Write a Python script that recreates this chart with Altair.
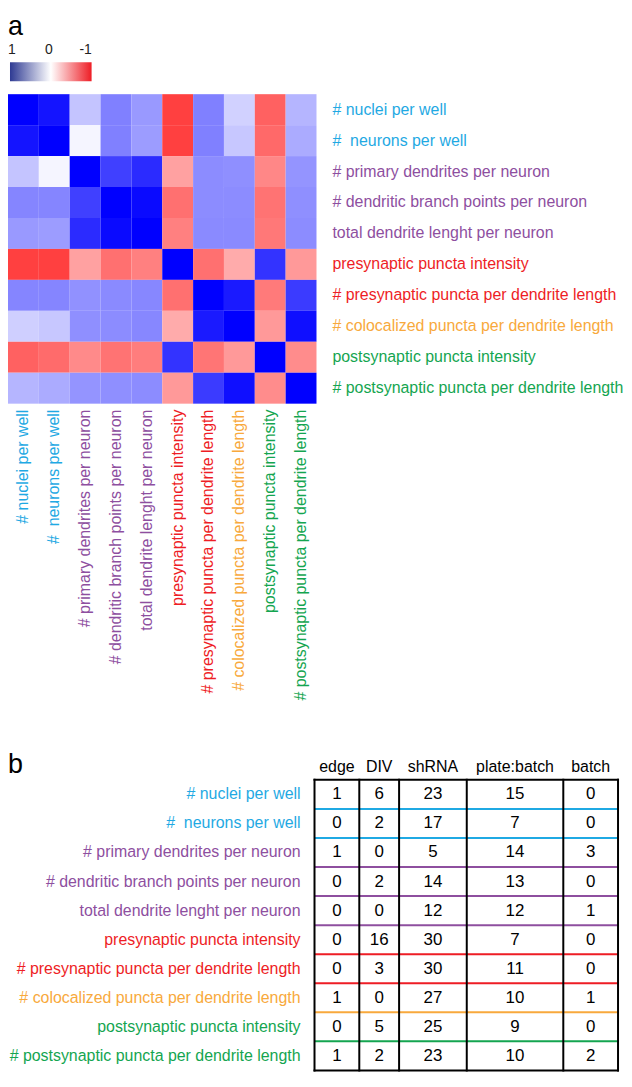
import altair as alt
import pandas as pd

# ---------------- data ----------------
labels = [
    "# nuclei per well",
    "#\u00a0 neurons per well",
    "# primary dendrites per neuron",
    "# dendritic branch points per neuron",
    "total dendrite lenght per neuron",
    "presynaptic puncta intensity",
    "# presynaptic puncta per dendrite length",
    "# colocalized puncta per dendrite length",
    "postsynaptic puncta intensity",
    "# postsynaptic puncta per dendrite length",
]
CYAN, PURPLE, RED, ORANGE, GREEN = "#1fa9e3", "#8e4f9f", "#ee1d25", "#f8a93c", "#14a550"
label_colors = [CYAN, CYAN, PURPLE, PURPLE, PURPLE, RED, RED, ORANGE, GREEN, GREEN]

# correlation matrix rows (1 = blue, 0 = white, -1 = red)
m_nuclei   = [1.00, 0.92, 0.23, 0.50, 0.40, -0.75, 0.50, 0.18, -0.62, 0.29]
m_neurons  = [0.92, 1.00, 0.04, 0.50, 0.39, -0.75, 0.50, 0.22, -0.59, 0.33]
m_primary  = [0.23, 0.04, 1.00, 0.75, 0.83, -0.37, 0.45, 0.44, -0.47, 0.42]
m_branch   = [0.48, 0.48, 0.75, 1.00, 0.96, -0.56, 0.45, 0.45, -0.55, 0.44]
m_total    = [0.40, 0.39, 0.83, 0.96, 1.00, -0.50, 0.46, 0.46, -0.53, 0.45]
m_pre_int  = [-0.75, -0.75, -0.37, -0.56, -0.50, 1.00, -0.56, -0.33, 0.80, -0.40]
m_pre_den  = [0.48, 0.48, 0.43, 0.46, 0.47, -0.56, 1.00, 0.90, -0.52, 0.77]
m_coloc    = [0.19, 0.22, 0.44, 0.45, 0.47, -0.33, 0.90, 1.00, -0.40, 0.94]
m_post_int = [-0.62, -0.58, -0.46, -0.55, -0.51, 0.80, -0.54, -0.40, 1.00, -0.45]
m_post_den = [0.29, 0.33, 0.42, 0.44, 0.45, -0.40, 0.77, 0.94, -0.45, 1.00]
matrix = [m_nuclei, m_neurons, m_primary, m_branch, m_total,
          m_pre_int, m_pre_den, m_coloc, m_post_int, m_post_den]

legend_ticks = ["1", "0", "-1"]

# table b
col_names = ["edge", "DIV", "shRNA", "plate:batch", "batch"]
v_edge = [1, 0, 1, 0, 0, 0, 0, 1, 0, 1]
v_div = [6, 2, 0, 2, 0, 16, 3, 0, 5, 2]
v_shrna = [23, 17, 5, 14, 12, 30, 30, 27, 25, 23]
v_plate_batch = [15, 7, 14, 13, 12, 7, 11, 10, 9, 10]
v_batch = [0, 0, 3, 0, 1, 0, 0, 1, 0, 2]
table_cols = [v_edge, v_div, v_shrna, v_plate_batch, v_batch]

# ---------------- layout constants ----------------
FONT = "Liberation Sans"
HW, HH = 310, 311          # heatmap size
TW, TH = 305, 292          # table size
TX0 = 308                  # table left inside bottom panel
col_widths = [45, 40, 68, 97, 55]

edges = [0]
for w in col_widths:
    edges.append(edges[-1] + w)
centers = [(edges[i] + edges[i + 1]) / 2 for i in range(len(col_widths))]

# ---------------- heatmap panel ----------------
heat_df = pd.DataFrame(
    [{"row": labels[i], "col": labels[j], "r": matrix[i][j]}
     for i in range(len(labels)) for j in range(len(labels))]
)
lab_df = pd.DataFrame({"label": labels, "color": label_colors})
one = pd.DataFrame({"k": [0]})

band = alt.Scale(domain=labels, paddingInner=0, paddingOuter=0)

heat = alt.Chart(heat_df).mark_rect().encode(
    x=alt.X("col:N", scale=band, axis=None),
    y=alt.Y("row:N", scale=band, axis=None),
    color=alt.Color("r:Q", legend=None,
                    scale=alt.Scale(domain=[-1, 0, 1],
                                    range=["#ff0000", "#ffffff", "#0000ff"],
                                    interpolate="rgb")),
)

right_labels = alt.Chart(lab_df).mark_text(
    align="left", baseline="middle", fontSize=16
).encode(
    y=alt.Y("label:N", scale=band, axis=None),
    x=alt.value(HW + 16),
    text="label:N",
    fill=alt.Fill("color:N", scale=None),
)

bottom_labels = alt.Chart(lab_df).mark_text(
    align="right", baseline="middle", angle=270, fontSize=16
).encode(
    x=alt.X("label:N", scale=band, axis=None),
    y=alt.value(HH + 6),
    text="label:N",
    fill=alt.Fill("color:N", scale=None),
)

title_a = alt.Chart(one).mark_text(
    text="a", fontSize=27, align="left", baseline="alphabetic", color="black"
).encode(x=alt.value(0), y=alt.value(-59))

grad = {
    "gradient": "linear",
    "x1": 0, "x2": 1, "y1": 0, "y2": 0,
    "stops": [
        {"offset": 0, "color": "#2e3a93"},
        {"offset": 0.5, "color": "#ffffff"},
        {"offset": 1, "color": "#ee1d25"},
    ],
}
legend_bar = alt.Chart(one).mark_rect(fill=grad).encode(
    x=alt.value(2), x2=alt.value(84), y=alt.value(-32), y2=alt.value(-13)
)
tick_x = [4, 41, 78]
legend_text = [
    alt.Chart(one).mark_text(text=t, fontSize=14, align="center",
                             baseline="alphabetic", color="#222222")
    .encode(x=alt.value(xx), y=alt.value(-40))
    for t, xx in zip(legend_ticks, tick_x)
]

top = alt.layer(heat, right_labels, bottom_labels, title_a, legend_bar,
                *legend_text).properties(width=HW, height=HH)

# ---------------- table panel ----------------
tab_df = pd.DataFrame(
    [{"label": labels[i], "cx": centers[j], "v": str(table_cols[j][i])}
     for i in range(len(labels)) for j in range(len(col_names))]
)
head_df = pd.DataFrame({"name": col_names, "cx": centers})
edge_df = pd.DataFrame({"e": edges})
sep_df = pd.DataFrame({"label": labels[:-1], "color": label_colors[:-1]})

xq = alt.Scale(domain=[0, TW], range=[TX0, TX0 + TW], nice=False, zero=False)
yb = alt.Scale(domain=labels, paddingInner=0, paddingOuter=0)

row_sep = alt.Chart(sep_df).mark_rule(strokeWidth=2).encode(
    y=alt.Y("label:N", scale=yb, axis=None, bandPosition=1),
    x=alt.value(TX0), x2=alt.value(TX0 + TW),
    stroke=alt.Stroke("color:N", scale=None),
)
border_h = alt.layer(*[
    alt.Chart(one).mark_rule(strokeWidth=2, color="black", strokeCap="square")
    .encode(x=alt.value(TX0), x2=alt.value(TX0 + TW), y=alt.value(yy))
    for yy in (0, TH)
])
col_lines = alt.Chart(edge_df).mark_rule(strokeWidth=2, color="black",
                                         strokeCap="square").encode(
    x=alt.X("e:Q", scale=xq, axis=None),
    y=alt.value(0), y2=alt.value(TH),
)
numbers = alt.Chart(tab_df).mark_text(
    fontSize=17, align="center", baseline="middle", color="black"
).encode(
    x=alt.X("cx:Q", scale=xq, axis=None),
    y=alt.Y("label:N", scale=yb, axis=None),
    text="v:N",
)
headers = alt.Chart(head_df).mark_text(
    fontSize=16, align="center", baseline="alphabetic", color="black"
).encode(
    x=alt.X("cx:Q", scale=xq, axis=None),
    y=alt.value(-8),
    text="name:N",
)
row_labels = alt.Chart(lab_df).mark_text(
    fontSize=16, align="right", baseline="middle"
).encode(
    y=alt.Y("label:N", scale=yb, axis=None),
    x=alt.value(TX0 - 14),
    text="label:N",
    fill=alt.Fill("color:N", scale=None),
)
title_b = alt.Chart(one).mark_text(
    text="b", fontSize=27, align="left", baseline="alphabetic", color="black"
).encode(x=alt.value(0), y=alt.value(-7))

bottom = alt.layer(row_sep, border_h, col_lines, numbers, headers,
                   row_labels, title_b).properties(width=TX0 + TW, height=TH)

chart = alt.vconcat(top, bottom, spacing=378, bounds="flush").properties(
    padding={"left": 0, "top": 3, "right": 0, "bottom": 0}
).configure(font=FONT).configure_view(strokeWidth=0)

chart.save("out.html", embed_options={"renderer": "svg", "actions": False})
